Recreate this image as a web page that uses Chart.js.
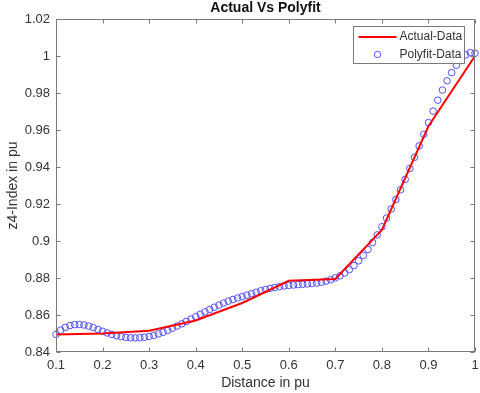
<!DOCTYPE html>
<html><head><meta charset="utf-8">
<script src="https://cdn.jsdelivr.net/npm/chart.js@4.4.0/dist/chart.umd.min.js"></script>
<style>html,body{margin:0;padding:0;background:#fff}</style>
</head><body><canvas id="c" width="480" height="393"></canvas>
<script>
// ---- data ----
const xActual = [0.1, 0.2, 0.3, 0.4, 0.5, 0.6, 0.7, 0.8, 0.9, 1.0];
const yActual = [0.8495, 0.8500, 0.8515, 0.8570, 0.8665, 0.8785, 0.8795, 0.9060, 0.9620, 1.0000];

const xFit = [0.10,0.11,0.12,0.13,0.14,0.15,0.16,0.17,0.18,0.19,
              0.20,0.21,0.22,0.23,0.24,0.25,0.26,0.27,0.28,0.29,
              0.30,0.31,0.32,0.33,0.34,0.35,0.36,0.37,0.38,0.39,
              0.40,0.41,0.42,0.43,0.44,0.45,0.46,0.47,0.48,0.49,
              0.50,0.51,0.52,0.53,0.54,0.55,0.56,0.57,0.58,0.59,
              0.60,0.61,0.62,0.63,0.64,0.65,0.66,0.67,0.68,0.69,
              0.70,0.71,0.72,0.73,0.74,0.75,0.76,0.77,0.78,0.79,
              0.80,0.81,0.82,0.83,0.84,0.85,0.86,0.87,0.88,0.89,
              0.90,0.91,0.92,0.93,0.94,0.95,0.96,0.97,0.98,0.99,1.00];
const yFit = [0.8495,0.8518,0.8533,0.8543,0.8548,0.8549,0.8546,0.8540,0.8532,0.8522,
              0.8512,0.8503,0.8495,0.8488,0.8483,0.8479,0.8477,0.8476,0.8477,0.8480,
              0.8484,0.8490,0.8498,0.8507,0.8517,0.8528,0.8540,0.8552,0.8565,0.8578,
              0.8591,0.8604,0.8617,0.8630,0.8642,0.8654,0.8665,0.8675,0.8684,0.8692,
              0.8699,0.8707,0.8715,0.8723,0.8731,0.8738,0.8744,0.8749,0.8753,0.8757,
              0.8760,0.8762,0.8764,0.8766,0.8768,0.8770,0.8773,0.8777,0.8783,0.8791,
              0.8801,0.8812,0.8827,0.8845,0.8867,0.8893,0.8922,0.8955,0.8992,0.9033,
              0.9077,0.9124,0.9173,0.9224,0.9277,0.9333,0.9392,0.9452,0.9514,0.9577,
              0.9640,0.9702,0.9761,0.9816,0.9866,0.9910,0.9950,0.9983,1.0006,1.0018,1.0015];

const xTicks = [0.1, 0.2, 0.3, 0.4, 0.5, 0.6, 0.7, 0.8, 0.9, 1.0];
const xTickLabels = ['0.1','0.2','0.3','0.4','0.5','0.6','0.7','0.8','0.9','1'];
const yTicks = [0.84, 0.86, 0.88, 0.90, 0.92, 0.94, 0.96, 0.98, 1.00, 1.02];
const yTickLabels = ['0.84','0.86','0.88','0.9','0.92','0.94','0.96','0.98','1','1.02'];

const seriesNames = ['Actual-Data', 'Polyfit-Data'];
const chartTitle = 'Actual Vs Polyfit';
const xTitle = 'Distance in pu';
const yTitle = 'z4-Index in pu';

// ---- style ----
const RED = '#ff0000';
const BLUE = '#4f4fff';
const AXIS = '#7a7a7a';
const TEXT = '#333333';
const FAM = "'Liberation Sans', Arial, sans-serif";

Chart.defaults.font.family = FAM;
Chart.defaults.font.size = 13;
Chart.defaults.color = TEXT;

const boxPlugin = {
  id: 'boxTicks',
  afterDatasetsDraw(chart) {
    const {ctx, chartArea: a, scales: {x, y}} = chart;
    const L = Math.round(a.left) + 0.5, R = Math.round(a.right) - 0.5;
    const T = Math.round(a.top) + 0.5, B = Math.round(a.bottom) - 0.5;
    ctx.save();
    ctx.strokeStyle = AXIS;
    ctx.lineWidth = 1;
    ctx.strokeRect(L, T, R - L, B - T);
    const tl = 4;
    ctx.beginPath();
    x.ticks.forEach(t => {
      const px = Math.round(x.getPixelForValue(t.value)) + 0.5;
      ctx.moveTo(px, B); ctx.lineTo(px, B - tl);
      ctx.moveTo(px, T); ctx.lineTo(px, T + tl);
    });
    y.ticks.forEach(t => {
      const py = Math.round(y.getPixelForValue(t.value)) + 0.5;
      ctx.moveTo(L, py); ctx.lineTo(L + tl, py);
      ctx.moveTo(R, py); ctx.lineTo(R - tl, py);
    });
    ctx.stroke();
    ctx.restore();
  }
};

const legendPlugin = {
  id: 'insideLegend',
  afterDraw(chart) {
    const {ctx, chartArea: a} = chart;
    const w = 111, h = 37;
    const bx = Math.round(a.right) - 11 - w + 0.5;
    const by = Math.round(a.top) + 7 + 0.5;
    ctx.save();
    ctx.fillStyle = '#ffffff';
    ctx.fillRect(bx, by, w, h);
    ctx.strokeStyle = AXIS;
    ctx.lineWidth = 1;
    ctx.strokeRect(bx, by, w, h);
    const y1 = by + 10.5, y2 = by + 28;
    ctx.strokeStyle = RED;
    ctx.lineWidth = 2;
    ctx.beginPath();
    ctx.moveTo(bx + 5, y1); ctx.lineTo(bx + 43, y1);
    ctx.stroke();
    ctx.strokeStyle = BLUE;
    ctx.lineWidth = 1;
    ctx.beginPath();
    ctx.arc(bx + 24, y2, 3.2, 0, Math.PI * 2);
    ctx.stroke();
    ctx.fillStyle = TEXT;
    ctx.font = "12px " + FAM;
    ctx.textBaseline = 'middle';
    ctx.textAlign = 'left';
    ctx.fillText(seriesNames[0], bx + 46, y1);
    ctx.fillText(seriesNames[1], bx + 46, y2);
    ctx.restore();
  }
};

new Chart(document.getElementById('c'), {
  type: 'scatter',
  data: {
    datasets: [
      {
        label: seriesNames[0],
        data: xActual.map((v, i) => ({x: v, y: yActual[i]})),
        showLine: true,
        borderColor: RED,
        borderWidth: 2,
        pointRadius: 0,
        tension: 0,
        order: 0
      },
      {
        label: seriesNames[1],
        data: xFit.map((v, i) => ({x: v, y: yFit[i]})),
        showLine: false,
        pointStyle: 'circle',
        pointRadius: 3.3,
        pointBorderWidth: 1,
        pointBorderColor: BLUE,
        pointBackgroundColor: 'rgba(0,0,0,0)',
        borderColor: BLUE,
        backgroundColor: 'rgba(0,0,0,0)',
        clip: false,
        order: 1
      }
    ]
  },
  options: {
    responsive: false,
    devicePixelRatio: 1,
    animation: false,
    events: [],
    layout: {padding: {left: 0, right: 3, top: 0, bottom: 0}},
    plugins: {
      legend: {display: false},
      tooltip: {enabled: false},
      title: {
        display: true,
        text: chartTitle,
        fullSize: false,
        color: '#111111',
        font: {size: 14, weight: 'bold'},
        padding: {top: 0, bottom: 2.2}
      }
    },
    scales: {
      x: {
        type: 'linear',
        min: 0.1, max: 1.0,
        afterBuildTicks: s => { s.ticks = xTicks.map(v => ({value: v})); },
        afterFit: s => { s.height = 41; s.paddingLeft = 0; s.paddingRight = 0; },
        grid: {display: false, drawTicks: false},
        border: {display: false},
        ticks: {
          autoSkip: false, maxRotation: 0, padding: 6,
          callback: (v, i) => xTickLabels[i]
        },
        title: {display: true, text: xTitle, font: {size: 14}, padding: {top: 0, bottom: 1.6}}
      },
      y: {
        type: 'linear',
        min: 0.84, max: 1.02,
        afterBuildTicks: s => { s.ticks = yTicks.map(v => ({value: v})); },
        afterFit: s => { s.width = 56; s.paddingTop = 0; s.paddingBottom = 0; },
        grid: {display: false, drawTicks: false},
        border: {display: false},
        ticks: {
          autoSkip: false, padding: 6,
          callback: (v, i) => yTickLabels[i]
        },
        title: {display: true, text: yTitle, font: {size: 14}, padding: {top: 4.6, bottom: 0}}
      }
    }
  },
  plugins: [boxPlugin, legendPlugin]
});
</script></body></html>
